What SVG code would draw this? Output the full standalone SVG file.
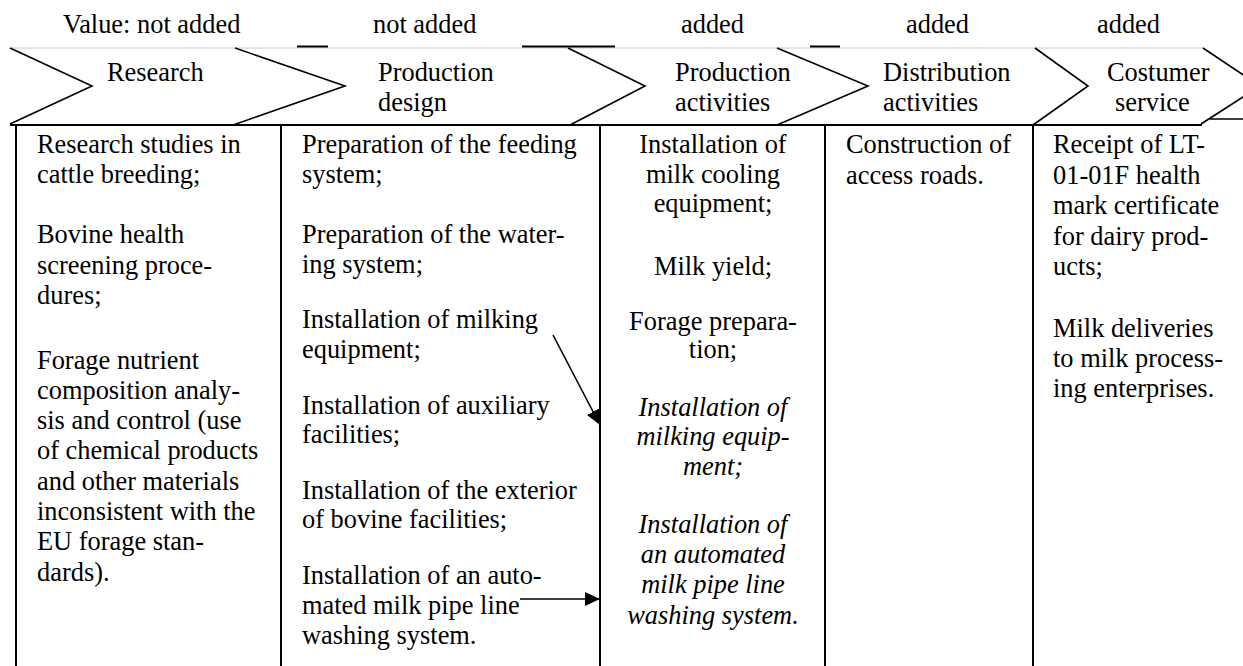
<svg xmlns="http://www.w3.org/2000/svg" width="1243" height="666" viewBox="0 0 1243 666">
<defs>
<style>
text{font-family:"Liberation Serif","Times New Roman",serif;font-size:26.4px;fill:#000}
.it{font-style:italic}
.c{text-anchor:middle}
.arm{fill:none;stroke:#000;stroke-width:1.6}
.col{stroke:#000;stroke-width:2}
.dash{stroke:#000;stroke-width:2}
.conn{stroke:#000;stroke-width:1.6;fill:none}
</style>
<marker id="ah" markerWidth="15" markerHeight="14" refX="15" refY="7" orient="auto" markerUnits="userSpaceOnUse">
<path d="M0,0 L15,7 L0,14 Z" fill="#000"/>
</marker>
</defs>
<rect width="1243" height="666" fill="#fff"/>

<g id="frame">
<line x1="10" y1="48" x2="1203" y2="48" stroke="#c8c8c8" stroke-width="1"/>
<line class="dash" x1="297" y1="46.5" x2="328" y2="46.5"/>
<line class="dash" x1="522" y1="46.5" x2="615" y2="46.5"/>
<line class="dash" x1="810" y1="46.5" x2="840" y2="46.5"/>
<line x1="10" y1="125" x2="1202" y2="125" stroke="#000" stroke-width="2"/>
<line x1="1210" y1="119" x2="1243" y2="119" stroke="#000" stroke-width="1.5"/>
</g>

<g id="value-labels">
<text x="63" y="33">Value: not added</text>
<text x="373" y="33">not added</text>
<text x="681" y="33">added</text>
<text x="906" y="33">added</text>
<text x="1097" y="33">added</text>
</g>

<g id="research">
<polyline class="arm" points="10,48 92,86 10,124"/>
<text x="107" y="81">Research</text>
<line class="col" x1="16" y1="125" x2="16" y2="666"/>
<text x="37" y="153">Research studies in</text>
<text x="37" y="183">cattle breeding;</text>
<text x="37" y="243">Bovine health</text>
<text x="37" y="274">screening proce-</text>
<text x="37" y="304">dures;</text>
<text x="37" y="369">Forage nutrient</text>
<text x="37" y="399">composition analy-</text>
<text x="37" y="429">sis and control (use</text>
<text x="37" y="459">of chemical products</text>
<text x="37" y="490">and other materials</text>
<text x="37" y="520">inconsistent with the</text>
<text x="37" y="550">EU forage stan-</text>
<text x="37" y="581">dards).</text>
</g>

<g id="production-design">
<polyline class="arm" points="235,48 345,86 233,125"/>
<text x="378" y="81">Production</text>
<text x="378" y="111">design</text>
<line class="col" x1="281" y1="125" x2="281" y2="666"/>
<text x="302" y="153">Preparation of the feeding</text>
<text x="302" y="183">system;</text>
<text x="302" y="243">Preparation of the water-</text>
<text x="302" y="273">ing system;</text>
<text x="302" y="328">Installation of milking</text>
<text x="302" y="358">equipment;</text>
<text x="302" y="414">Installation of auxiliary</text>
<text x="302" y="443">facilities;</text>
<text x="302" y="499">Installation of the exterior</text>
<text x="302" y="528">of bovine facilities;</text>
<text x="302" y="584">Installation of an auto-</text>
<text x="302" y="614">mated milk pipe line</text>
<text x="302" y="644">washing system.</text>
</g>

<g id="production-activities">
<polyline class="arm" points="568,48 645,86 570,125"/>
<text x="675" y="81">Production</text>
<text x="675" y="111">activities</text>
<line class="col" x1="600" y1="125" x2="600" y2="666"/>
<text class="c" x="713" y="153">Installation of</text>
<text class="c" x="713" y="183">milk cooling</text>
<text class="c" x="713" y="212">equipment;</text>
<text class="c" x="713" y="275">Milk yield;</text>
<text class="c" x="713" y="330">Forage prepara-</text>
<text class="c" x="713" y="358">tion;</text>
<text class="c it" x="713" y="416">Installation of</text>
<text class="c it" x="713" y="445">milking equip-</text>
<text class="c it" x="713" y="475">ment;</text>
<text class="c it" x="713" y="533">Installation of</text>
<text class="c it" x="713" y="563">an automated</text>
<text class="c it" x="713" y="593">milk pipe line</text>
<text class="c it" x="713" y="624">washing system.</text>
</g>

<g id="distribution-activities">
<polyline class="arm" points="777,48 868,86 777,125"/>
<text x="883" y="81">Distribution</text>
<text x="883" y="111">activities</text>
<line class="col" x1="825" y1="125" x2="825" y2="666"/>
<text x="846" y="153">Construction of</text>
<text x="846" y="184">access roads.</text>
</g>

<g id="costumer-service">
<polyline class="arm" points="1035,48 1088,86 1033,125"/>
<text x="1107" y="81">Costumer</text>
<text x="1115" y="111">service</text>
<line class="col" x1="1033" y1="125" x2="1033" y2="666"/>
<text x="1053" y="153">Receipt of LT-</text>
<text x="1053" y="184">01-01F health</text>
<text x="1053" y="214">mark certificate</text>
<text x="1053" y="245">for dairy prod-</text>
<text x="1053" y="275">ucts;</text>
<text x="1053" y="337">Milk deliveries</text>
<text x="1053" y="367">to milk process-</text>
<text x="1053" y="397">ing enterprises.</text>
</g>

<g id="next-stage">
<polyline class="arm" points="1203,48 1260,86 1201,124"/>
</g>

<g id="connectors">
<line class="conn" x1="553" y1="335" x2="600" y2="425" marker-end="url(#ah)"/>
<line class="conn" x1="520" y1="599" x2="600" y2="599" marker-end="url(#ah)"/>
</g>
</svg>
